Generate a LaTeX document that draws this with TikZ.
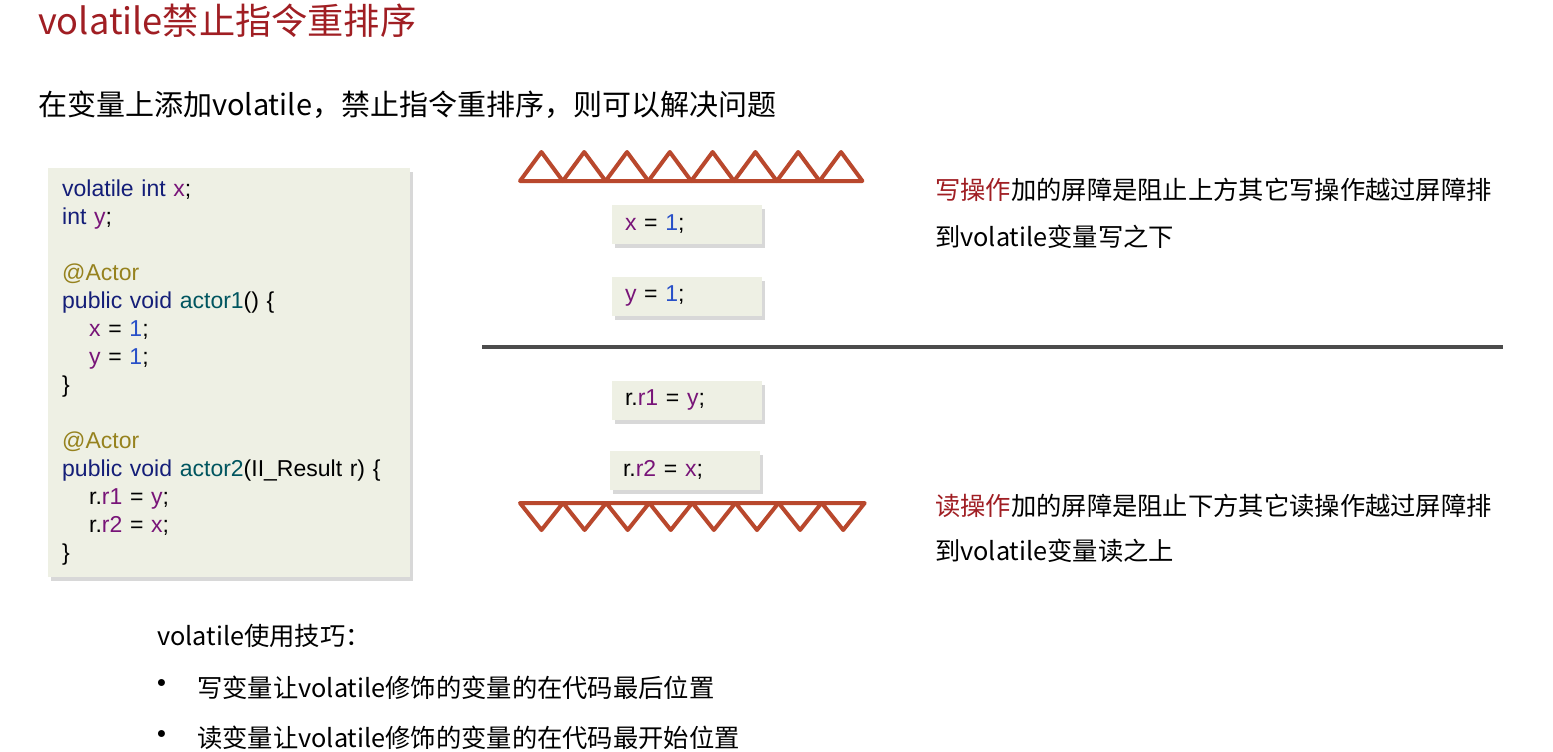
\documentclass[tikz,border=0pt]{standalone}
\usepackage{fontspec}
\setmainfont{Noto Sans CJK SC}
\newfontfamily\codefont{Liberation Sans}
\usetikzlibrary{shadows}

\definecolor{slidered}{RGB}{160,30,35}
\definecolor{barrierred}{RGB}{185,72,45}
\definecolor{codebg}{RGB}{238,240,228}
\definecolor{kwblue}{RGB}{20,30,120}
\definecolor{varpurple}{RGB}{120,20,120}
\definecolor{numblue}{RGB}{40,80,200}
\definecolor{fnteal}{RGB}{0,85,95}
\definecolor{annolive}{RGB}{150,130,30}

\newcommand\ckw[1]{\textcolor{kwblue}{#1}}
\newcommand\cvar[1]{\textcolor{varpurple}{#1}}
\newcommand\cnum[1]{\textcolor{numblue}{#1}}
\newcommand\cfn[1]{\textcolor{fnteal}{#1}}
\newcommand\cann[1]{\textcolor{annolive}{#1}}
\newcommand\ind{\hspace*{27pt}}

\tikzset{
  codebox/.style={fill=codebg, drop shadow={shadow xshift=3pt, shadow yshift=-4pt, fill=black!30}},
  snip/.style={codebox, minimum width=150pt, minimum height=39pt, inner xsep=13pt,
    text width=124pt, align=left, font=\codefont\fontsize{23}{28}\selectfont},
  barrier/.style={draw=barrierred, line width=4pt, line join=round},
  note/.style={anchor=west, inner sep=0pt, font=\fontsize{25.3}{30}\selectfont},
  tip/.style={anchor=west, inner sep=0pt, font=\fontsize{25.3}{30}\selectfont},
}

\begin{document}
\begin{tikzpicture}[x=1pt, y=-1pt]
\fill[white] (0,0) rectangle (1553,752);
\useasboundingbox (0,0) rectangle (1553,752);

% headings
\node[anchor=west, inner sep=0pt, text=slidered, font=\fontsize{36.2}{40}\selectfont] (title) at (38,21) {volatile禁止指令重排序};
\node[anchor=west, inner sep=0pt, font=\fontsize{29}{34}\selectfont] (intro) at (38,105) {在变量上添加volatile，禁止指令重排序，则可以解决问题};

% code
\node[codebox, anchor=north west, minimum width=362pt, minimum height=409pt, inner xsep=14pt,
  text width=334pt, align=left, font=\codefont\fontsize{23}{28}\selectfont] (code) at (48,168) {%
\ckw{volatile int} \cvar{x};\\
\ckw{int} \cvar{y};\\[28pt]
\cann{@Actor}\\
\ckw{public void} \cfn{actor1}() \{\\
\ind\cvar{x} = \cnum{1};\\
\ind\cvar{y} = \cnum{1};\\
\}\\[28pt]
\cann{@Actor}\\
\ckw{public void} \cfn{actor2}(II\_Result r) \{\\
\ind r.\cvar{r1} = \cvar{y};\\
\ind r.\cvar{r2} = \cvar{x};\\
\}};

% barriers
\foreach \i in {0,...,7}
\draw[barrier] (520+42.8*\i,181) -- ++(21.4,-29) -- ++(21.4,29) -- cycle;
\foreach \i in {0,...,7}
\draw[barrier] (520+43.1*\i,503) -- ++(21.5,27) -- ++(21.5,-27) -- cycle;

\node[snip] (wx) at (687,224) {\cvar{x} = \cnum{1};};
\node[snip] (wy) at (687,296) {\cvar{y} = \cnum{1};};
\node[snip] (r1) at (687,400) {r.\cvar{r1} = \cvar{y};};
\node[snip] (r2) at (685,470) {r.\cvar{r2} = \cvar{x};};

\draw[line width=4pt, draw=black!70] (482,347) -- (1503,347);

% notes
\node[note] (wn1) at (935,190) {\textcolor{slidered}{写操作}加的屏障是阻止上方其它写操作越过屏障排};
\node[note] (wn2) at (935,237) {到volatile变量写之下};
\node[note] (rn1) at (935,506) {\textcolor{slidered}{读操作}加的屏障是阻止下方其它读操作越过屏障排};
\node[note] (rn2) at (935,551) {到volatile变量读之上};

% tips
\node[tip] (tips) at (157,636) {volatile使用技巧：};
\node[tip, scale=1.3] (b1) at (145,688) {•};
\node[tip] (t1) at (197,688) {写变量让volatile修饰的变量的在代码最后位置};
\node[tip, scale=1.3] (b2) at (145,738) {•};
\node[tip] (t2) at (197,738) {读变量让volatile修饰的变量的在代码最开始位置};
\end{tikzpicture}
\end{document}
